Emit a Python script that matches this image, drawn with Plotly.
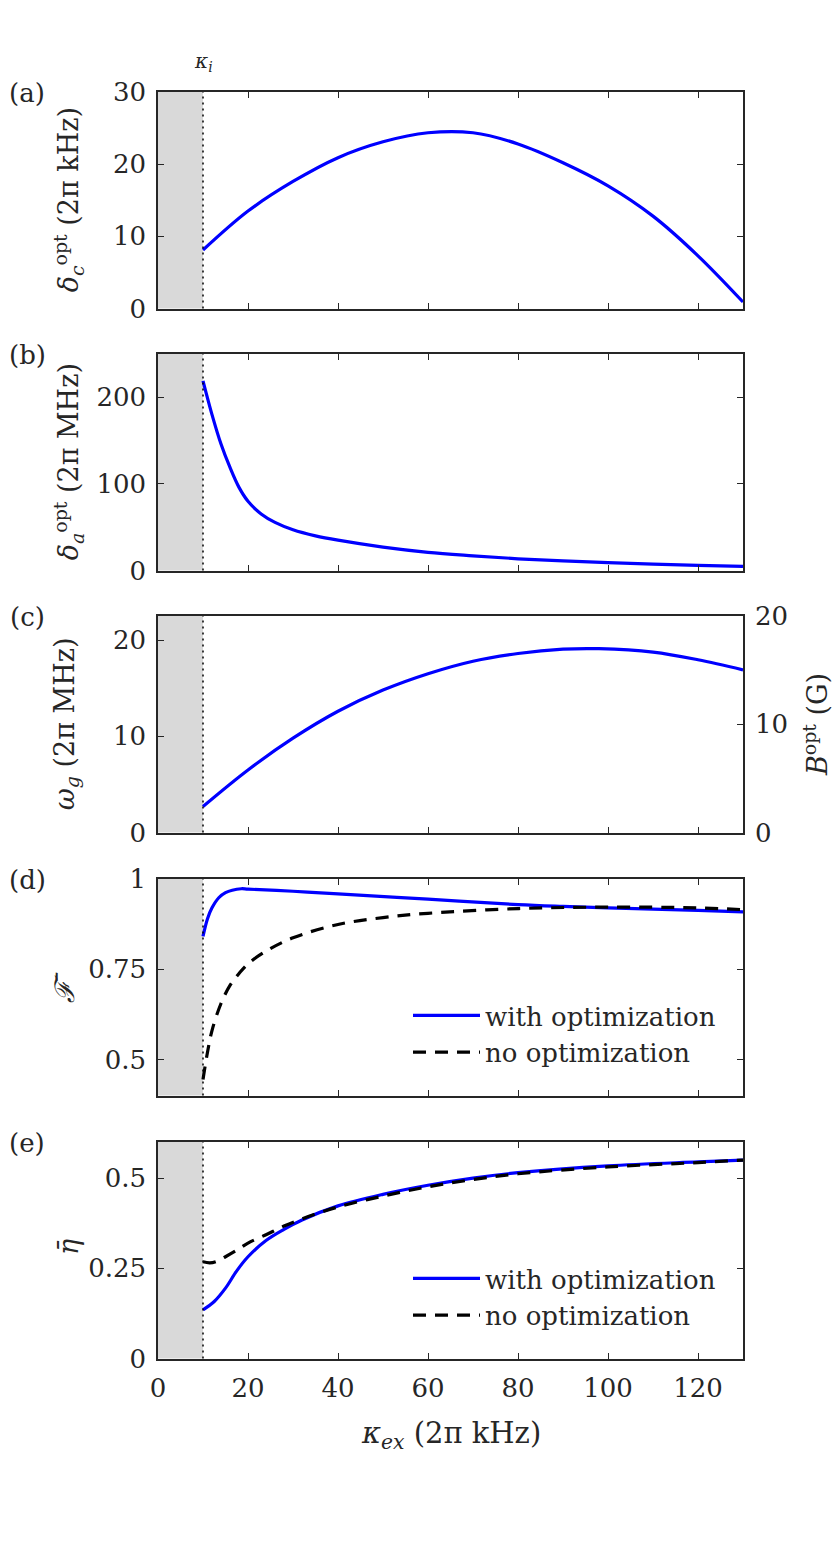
import plotly.graph_objects as go

# ---------------- data ----------------
x_a = [10, 20, 30, 40, 50, 60, 70, 80, 90, 100, 110, 120, 130]
delta_c_opt = [8.1, 13.5, 17.6, 20.9, 23.1, 24.35, 24.35, 22.8, 20.2, 17.0, 12.8, 7.3, 0.9]

x_b = [10, 12, 14, 16, 18, 20, 23, 26, 30, 35, 40, 50, 60, 70, 80, 90, 100, 110, 120, 130]
delta_a_opt = [219, 180, 146, 119, 96, 80, 65, 55.5, 47, 40, 35, 27, 21, 17, 13.5, 11, 9, 7.3, 5.9, 4.7]

x_c = [10, 20, 30, 40, 50, 60, 70, 80, 90, 98, 110, 120, 130]
omega_g = [2.7, 6.5, 9.8, 12.6, 14.8, 16.5, 17.8, 18.6, 19.05, 19.1, 18.75, 17.95, 16.9]

x_d_opt = [10, 11, 12, 13.5, 15, 16.5, 18.5, 20, 30, 40, 60, 80, 90, 100, 120, 130]
F_opt = [0.841, 0.89, 0.92, 0.948, 0.962, 0.969, 0.973, 0.972, 0.966, 0.959, 0.944, 0.929, 0.924, 0.920, 0.913, 0.909]
x_d_no = [10, 11, 12, 14, 16, 18, 20, 24, 30, 40, 50, 60, 80, 100, 120, 130]
F_no = [0.444, 0.52, 0.58, 0.655, 0.705, 0.738, 0.765, 0.80, 0.837, 0.874, 0.893, 0.905, 0.918, 0.922, 0.920, 0.915]

x_e_opt = [10, 12.5, 15, 17.5, 20, 24, 28, 32, 40, 50, 60, 70, 80, 100, 120, 130]
eta_opt = [0.135, 0.158, 0.195, 0.243, 0.282, 0.327, 0.358, 0.384, 0.423, 0.455, 0.480, 0.500, 0.515, 0.534, 0.545, 0.550]
x_e_no = [10, 11.5, 13, 15, 17.5, 20, 24, 28, 32, 40, 50, 60, 70, 80, 100, 120, 130]
eta_no = [0.268, 0.265, 0.269, 0.282, 0.300, 0.320, 0.343, 0.367, 0.387, 0.420, 0.450, 0.476, 0.496, 0.512, 0.531, 0.543, 0.550]

kappa_i = 10
x_ticks = [0, 20, 40, 60, 80, 100, 120]
panel_labels = ["(a)", "(b)", "(c)", "(d)", "(e)"]
legend_names = ["with optimization", "no optimization"]

# ---------------- layout geometry ----------------
W, H = 834, 1542
L, R = 158, 743
T, B = 92, 1359
PH = B - T
tops = [92, 354, 616, 879, 1142]
ph = 216.5


def py(p):
    return (B - p) / PH


def px(p):
    return (p - L) / (R - L)


FONT = "DejaVu Serif"
AX = "#262626"
BLUE = "#0000ff"

fig = go.Figure()
line_blue = dict(color=BLUE, width=3.2, shape="spline", smoothing=1.0)
line_dash = dict(color="black", width=3.2, dash="13px,9px", shape="spline", smoothing=1.0)

fig.add_trace(go.Scatter(x=x_a, y=delta_c_opt, mode="lines", line=line_blue, xaxis="x", yaxis="y", showlegend=False))
fig.add_trace(go.Scatter(x=x_b, y=delta_a_opt, mode="lines", line=line_blue, xaxis="x2", yaxis="y2", showlegend=False))
fig.add_trace(go.Scatter(x=x_c, y=omega_g, mode="lines", line=line_blue, xaxis="x3", yaxis="y3", showlegend=False))
# empty trace so the right-hand B axis of panel (c) is drawn
fig.add_trace(go.Scatter(x=[None], y=[None], mode="lines", xaxis="x3", yaxis="y6", showlegend=False,
                         hoverinfo="skip"))
fig.add_trace(go.Scatter(x=x_d_opt, y=F_opt, mode="lines", line=line_blue, xaxis="x4", yaxis="y4",
                         name=legend_names[0], legend="legend"))
fig.add_trace(go.Scatter(x=x_d_no, y=F_no, mode="lines", line=line_dash, xaxis="x4", yaxis="y4",
                         name=legend_names[1], legend="legend"))
fig.add_trace(go.Scatter(x=x_e_opt, y=eta_opt, mode="lines", line=line_blue, xaxis="x5", yaxis="y5",
                         name=legend_names[0], legend="legend2"))
fig.add_trace(go.Scatter(x=x_e_no, y=eta_no, mode="lines", line=line_dash, xaxis="x5", yaxis="y5",
                         name=legend_names[1], legend="legend2"))

yranges = [[0, 30], [0, 250], [0, 22.5], [0.4, 1.0], [0, 0.6]]
yticks = [
    ([0, 10, 20, 30], ["0", "10", "20", "30"]),
    ([0, 100, 200], ["0", "100", "200"]),
    ([0, 10, 20], ["0", "10", "20"]),
    ([0.5, 0.75, 1.0], ["0.5", "0.75", "1"]),
    ([0, 0.25, 0.5], ["0", "0.25", "0.5"]),
]

common = dict(showline=True, linecolor=AX, linewidth=1.5, ticks="inside", ticklen=6,
              tickwidth=1.4, tickcolor=AX, showgrid=False, zeroline=False,
              tickfont=dict(family=FONT, size=26, color="#262626"))

layout = {}
for i in range(5):
    s = "" if i == 0 else str(i + 1)
    top = tops[i]
    dom = [py(top + ph), py(top)]
    layout["xaxis" + s] = dict(common, domain=[0, 1], range=[0, 130], anchor="y" + s,
                               tickvals=x_ticks, ticktext=[str(v) for v in x_ticks],
                               showticklabels=(i == 4), mirror=(True if i == 2 else "ticks"),
                               ticklabelstandoff=6)
    tv, tt = yticks[i]
    layout["yaxis" + s] = dict(common, domain=dom, range=yranges[i], anchor="x" + s,
                               tickvals=tv, ticktext=tt, mirror=(False if i == 2 else "ticks"),
                               ticklabelstandoff=5)

layout["yaxis6"] = dict(common, overlaying="y3", side="right", range=[0, 20], anchor="x3",
                        tickvals=[0, 10, 20], ticktext=["0", "10", "20"], ticklabelstandoff=5)

shapes = []
for i in range(5):
    s = "" if i == 0 else str(i + 1)
    shapes.append(dict(type="rect", xref="x" + s, yref="y" + s + " domain", x0=0, x1=kappa_i,
                       y0=0, y1=1, fillcolor="#d9d9d9", line=dict(width=0), layer="below"))
    shapes.append(dict(type="line", xref="x" + s, yref="y" + s + " domain", x0=kappa_i, x1=kappa_i,
                       y0=0, y1=1, line=dict(color="black", width=1.5, dash="2px,4px"), layer="above"))

tfont = dict(family=FONT, size=27, color="#262626")
annotations = []
for i, lab in enumerate(panel_labels):
    annotations.append(dict(text=lab, xref="paper", yref="paper", x=px(27), y=py(tops[i] + 1),
                            showarrow=False, font=dict(family=FONT, size=26, color="#262626"),
                            xanchor="center", yanchor="middle"))

ytitles = [
    ("<i>δ</i><sub><i>c</i></sub><sup>opt</sup> (2π kHz)", 68, tops[0] + ph / 2),
    ("<i>δ</i><sub><i>a</i></sub><sup>opt</sup> (2π MHz)", 68, tops[1] + ph / 2),
    ("<i>ω</i><sub><i>g</i></sub> (2π MHz)", 66, tops[2] + ph / 2),
    ("<i>ℱ̄</i>", 64, 988),
    ("<i>η̄</i>", 68, 1247),
]
for txt, xx, yy in ytitles:
    annotations.append(dict(text=txt, xref="paper", yref="paper", x=px(xx), y=py(yy), textangle=-90,
                            showarrow=False, font=tfont, xanchor="center", yanchor="middle"))
annotations.append(dict(text="<i>B</i><sup>opt</sup> (G)", xref="paper", yref="paper", x=px(815),
                        y=py(725), textangle=-90, showarrow=False, font=tfont,
                        xanchor="center", yanchor="middle"))
annotations.append(dict(text="<i>κ</i><sub><i>ex</i></sub> (2π kHz)", xref="paper", yref="paper",
                        x=0.5, y=py(1435), showarrow=False, font=dict(family=FONT, size=29, color="#262626"),
                        xanchor="center", yanchor="middle"))
annotations.append(dict(text="<i>κ<sub>i</sub></i>", xref="x", yref="paper", x=kappa_i, y=py(62),
                        showarrow=False, font=dict(family=FONT, size=20, color="#262626"),
                        xanchor="center", yanchor="middle"))

legfont = dict(family=FONT, size=26, color="#262626")
leg = dict(x=px(408), xanchor="left", yanchor="middle", bgcolor="rgba(0,0,0,0)",
           borderwidth=0, font=legfont, itemwidth=67, tracegroupgap=0)

fig.update_layout(
    width=W, height=H,
    margin=dict(l=L, r=W - R, t=T, b=H - B, autoexpand=False),
    paper_bgcolor="white", plot_bgcolor="white",
    shapes=shapes, annotations=annotations,
    legend=dict(leg, y=py(1034)),
    legend2=dict(leg, y=py(1297)),
    **layout,
)

fig.write_html("out.html")
